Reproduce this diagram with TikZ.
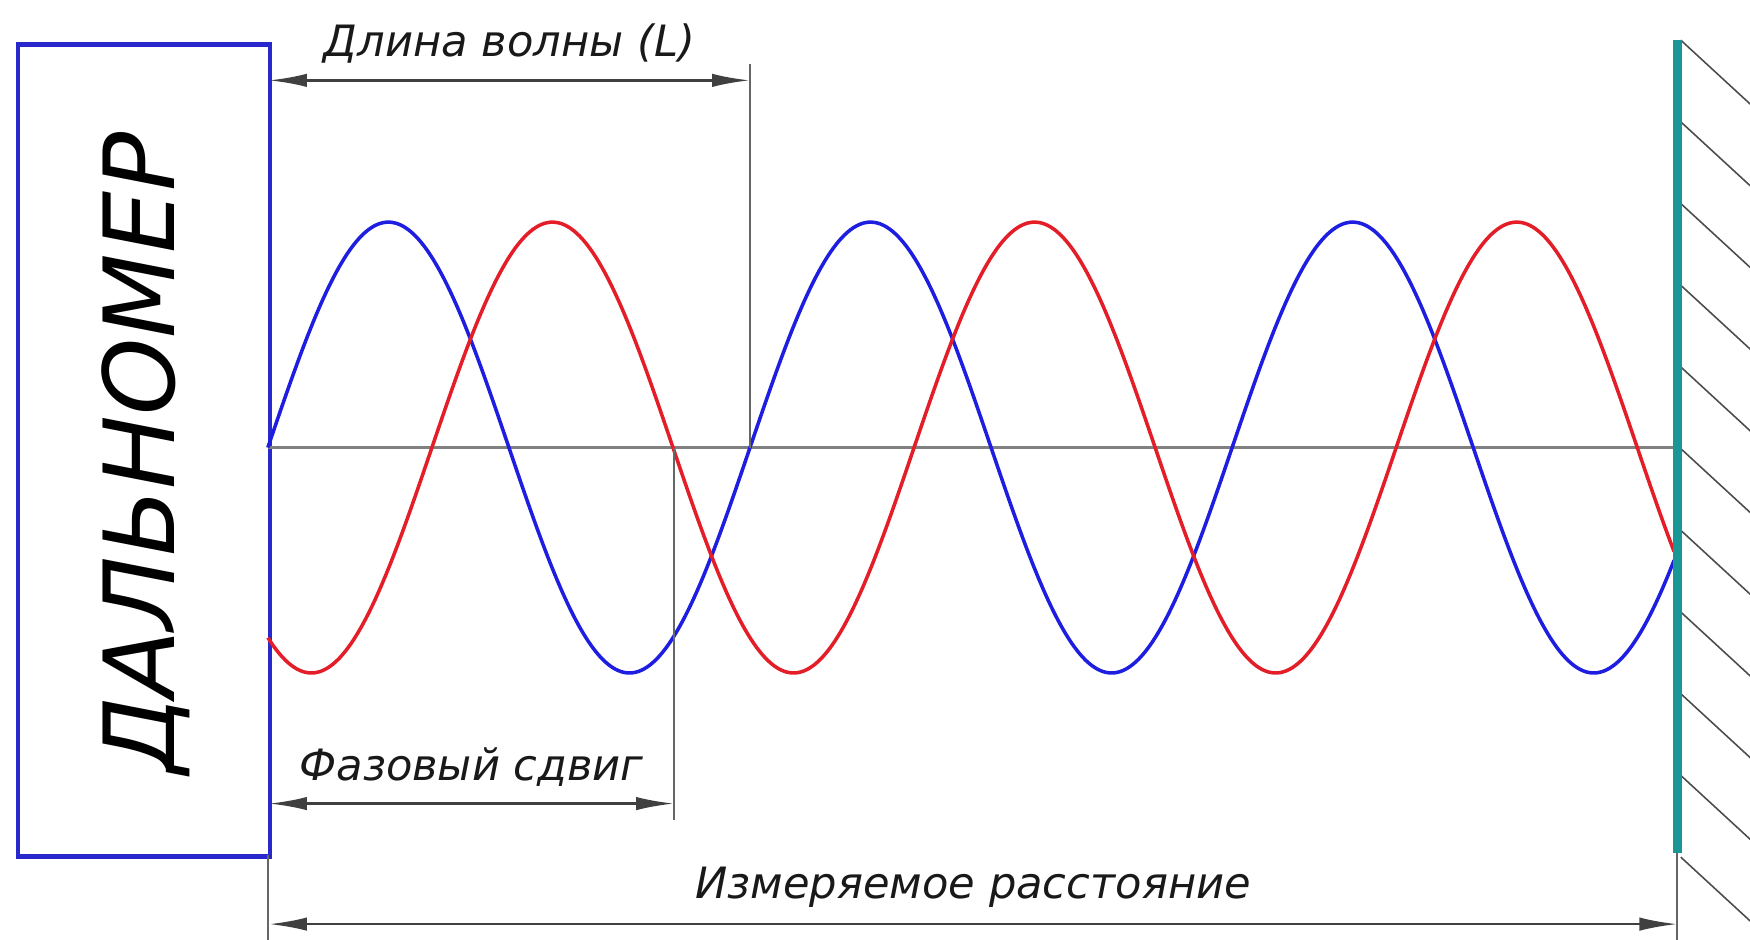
\documentclass[tikz,border=0pt]{standalone}
\usepackage{fontspec}
\setmainfont{DejaVu Sans}
\usetikzlibrary{arrows.meta,positioning,calc}
\definecolor{devblue}{RGB}{40,40,205}
\definecolor{sigblue}{RGB}{30,30,225}
\definecolor{sigred}{RGB}{228,30,40}
\definecolor{wallteal}{RGB}{25,150,150}

\begin{document}
\begin{tikzpicture}[x=0.01cm,y=-0.01cm,
  dev/.style={draw=devblue,line width=1.1pt,minimum width=2.26cm,minimum height=7.27cm,inner sep=0pt},
  lbl/.style={font=\itshape\fontsize{11}{13}\selectfont,text=black!90,inner sep=1pt},
  dim/.style={{Latex[length=3.4mm,width=1.2mm]}-{Latex[length=3.4mm,width=1.2mm]},draw=black!75,line width=0.7pt},
  ext/.style={draw=black!60,line width=0.5pt},
  axis/.style={draw=black!50,line width=0.9pt},
  wave/.style={line width=0.9pt,smooth,samples=240},
  hatch/.style={draw=black!70,line width=0.4pt}
]
\useasboundingbox (0,0) rectangle (1568,842);
\node[dev,anchor=north west] (dev) at (14,38) {};
\node[rotate=90,font=\itshape\fontsize{25}{30}\selectfont] (name) at (131,406) {ДАЛЬНОМЕР};
\coordinate (wt) at (1503,36);
\coordinate (wb) at (1503,764);
\coordinate (o) at (240,401);
\coordinate (e) at (o -| wt);
\foreach \i in {0,...,10} \draw[hatch] (1506,36+73.2*\i) -- ++(63,58);
\draw[axis] (o) -- (e);
\draw[wave,sigblue] plot[domain=240:1500] (\x,{401-202*sin((\x-240)/432*360)});
\draw[wave,sigred] plot[domain=240:1500] (\x,{401-202*sin((\x-387)/432*360)});
\draw[wallteal,line width=2.4pt] (wt) -- (wb);
\coordinate (Lt) at (672,57);
\coordinate (Lb) at (672,401);
\coordinate (Pt) at (604,401);
\coordinate (Pb) at (604,735);
\coordinate (Dt) at (240,766);
\coordinate (Db) at (240,842);
\coordinate (Eb) at (1503,842);
\draw[ext] (Lt) -- (Lb);
\draw[ext] (Pt) -- (Pb);
\draw[ext] (Dt) -- (Db);
\draw[ext] (wb) -- (Eb);
\coordinate (L1) at (241,72);
\coordinate (L2) at (Lt |- L1);
\coordinate (P1) at (241,720);
\coordinate (P2) at (Pt |- P1);
\coordinate (D1) at (241,828);
\coordinate (D2) at (wt |- D1);
\draw[dim] (L1) -- node[lbl,above=3pt] (lenlbl) {Длина волны (L)} (L2);
\draw[dim] (P1) -- node[lbl,above=3pt] (phlbl) {Фазовый сдвиг} (P2);
\draw[dim] (D1) -- node[lbl,above=3pt] (dstlbl) {Измеряемое расстояние} (D2);
\end{tikzpicture}
\end{document}
